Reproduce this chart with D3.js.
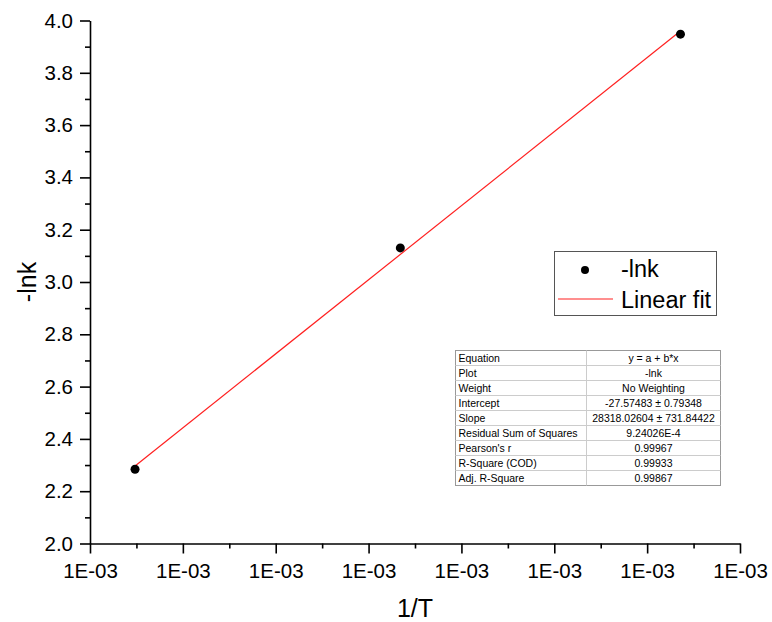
<!DOCTYPE html>
<html><head><meta charset="utf-8">
<script src="https://cdn.jsdelivr.net/npm/d3@7"></script>
<style>body{margin:0;background:#fff}svg{display:block;font-family:"Liberation Sans",Arial,sans-serif}</style>
</head><body>
<svg id="c" width="772" height="622"></svg>
<script>
// Data: 1/T (K^-1) and -lnk
const invT = [0.00105485, 0.00108342, 0.00111359];
const negLnK = [2.2838, 3.1304, 3.9477];
const fitIntercept = -27.57483;
const fitSlope = 28318.02604;
const xTicks = [0.00105, 0.00106, 0.00107, 0.00108, 0.00109, 0.00110, 0.00111, 0.00112];
const yTicks = [2.0, 2.2, 2.4, 2.6, 2.8, 3.0, 3.2, 3.4, 3.6, 3.8, 4.0];
const tableLabels = ["Equation","Plot","Weight","Intercept","Slope","Residual Sum of Squares","Pearson's r","R-Square (COD)","Adj. R-Square"];
const tableValues = ["y = a + b*x","-lnk","No Weighting","-27.57483 \u00b1 0.79348","28318.02604 \u00b1 731.84422","9.24026E-4","0.99967","0.99933","0.99867"];
const legendLabels = ["-lnk","Linear fit"];

const svg = d3.select("#c");
const L = 90, R = 740, T = 20.5, B = 543.5;
const x = d3.scaleLinear().domain([0.00105, 0.00112]).range([L, R]);
const y = d3.scaleLinear().domain([2.0, 4.0]).range([B, T]);

const fmtE = d => {
  const [m, e] = d.toExponential(0).split("e");
  const n = Math.abs(+e);
  return m + "E" + (+e < 0 ? "-" : "+") + String(n).padStart(2, "0");
};

// minor ticks
const xMinor = d3.range(xTicks.length - 1).map(i => (xTicks[i] + xTicks[i+1]) / 2);
const yMinor = d3.range(yTicks.length - 1).map(i => (yTicks[i] + yTicks[i+1]) / 2);
svg.append("g").attr("transform", `translate(0,${B})`)
  .call(d3.axisBottom(x).tickValues(xMinor).tickSize(5).tickFormat(""))
  .call(g => g.select(".domain").remove());
svg.append("g").attr("transform", `translate(${L},0)`)
  .call(d3.axisLeft(y).tickValues(yMinor).tickSize(5).tickFormat(""))
  .call(g => g.select(".domain").remove());

const xa = svg.append("g").attr("transform", `translate(0,${B})`)
  .call(d3.axisBottom(x).tickValues(xTicks).tickSize(10).tickSizeOuter(0).tickPadding(10).tickFormat(fmtE));
const ya = svg.append("g").attr("transform", `translate(${L},0)`)
  .call(d3.axisLeft(y).tickValues(yTicks).tickSize(10).tickSizeOuter(0).tickPadding(7).tickFormat(d3.format(".1f")));
svg.selectAll(".tick line, .domain").attr("stroke", "#000").attr("stroke-width", 1.6);
svg.selectAll(".tick text").attr("font-size", 20.5).attr("fill", "#000")
  .attr("font-family", "'Liberation Sans',Arial,sans-serif");

// axis titles
svg.append("text").attr("x", 415).attr("y", 617).attr("text-anchor", "middle")
  .attr("font-size", 25).text("1/T");
svg.append("text").attr("transform", "translate(36,282) rotate(-90)").attr("text-anchor", "middle")
  .attr("font-size", 25).text("-lnk");

// fit line
const x0 = d3.min(invT), x1 = d3.max(invT);
svg.append("line")
  .attr("x1", x(x0)).attr("y1", y(fitIntercept + fitSlope * x0))
  .attr("x2", x(x1)).attr("y2", y(fitIntercept + fitSlope * x1))
  .attr("stroke", "#ff2020").attr("stroke-width", 1.2);

// points
svg.selectAll("circle.pt").data(invT).join("circle").attr("class", "pt")
  .attr("cx", d => x(d)).attr("cy", (d, i) => y(negLnK[i])).attr("r", 4.5).attr("fill", "#000");

// legend
const lg = svg.append("g");
lg.append("rect").attr("x", 554.5).attr("y", 251.5).attr("width", 162).attr("height", 64)
  .attr("fill", "#fff").attr("stroke", "#555").attr("stroke-width", 1);
lg.append("circle").attr("cx", 585).attr("cy", 270).attr("r", 4).attr("fill", "#000");
lg.append("line").attr("x1", 558).attr("x2", 613).attr("y1", 299).attr("y2", 299)
  .attr("stroke", "#ff2020").attr("stroke-width", 1.2);
lg.selectAll("text").data(legendLabels).join("text")
  .attr("x", 621).attr("y", (d, i) => 277 + i * 31).attr("font-size", 23.5).text(d => d);

// stats table
const tx = 455.5, ty = 350.5, tw = 265, rh = 15, c1 = 131;
const tb = svg.append("g");
tb.append("rect").attr("x", tx).attr("y", ty).attr("width", tw).attr("height", rh * tableLabels.length)
  .attr("fill", "#fff").attr("stroke", "#999");
tableLabels.forEach((lab, i) => {
  if (i > 0) tb.append("line").attr("x1", tx).attr("x2", tx + tw)
    .attr("y1", ty + i * rh).attr("y2", ty + i * rh).attr("stroke", "#ccc");
  tb.append("text").attr("x", tx + 3).attr("y", ty + i * rh + 11).attr("font-size", 10.5).text(lab);
  tb.append("text").attr("x", tx + c1 + (tw - c1) / 2).attr("y", ty + i * rh + 11)
    .attr("text-anchor", "middle").attr("font-size", 10.5).text(tableValues[i]);
});
tb.append("line").attr("x1", tx + c1).attr("x2", tx + c1).attr("y1", ty).attr("y2", ty + rh * tableLabels.length)
  .attr("stroke", "#ccc");
</script>
</body></html>
